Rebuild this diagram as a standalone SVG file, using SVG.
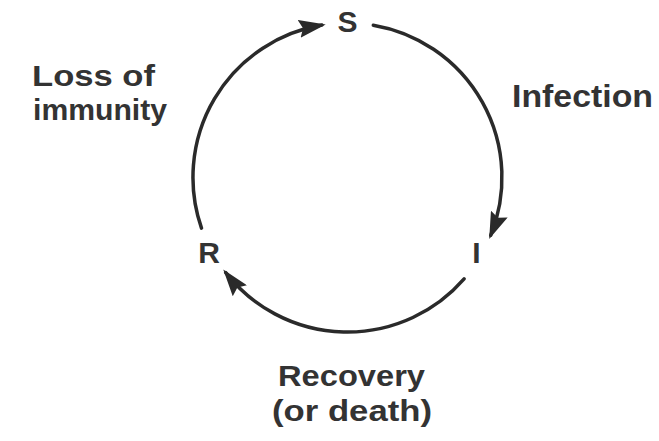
<svg xmlns="http://www.w3.org/2000/svg" width="659" height="441" viewBox="0 0 659 441">
  <defs>
    <marker id="arrow" markerUnits="userSpaceOnUse" markerWidth="27" markerHeight="18" viewBox="0 0 27 18" refX="23" refY="9" orient="auto">
      <path d="M0,0 L27,9 L0,18 L4,9 z" fill="#2a2a2a"/>
    </marker>
    <style>
      .conn { fill: none; stroke: #2a2a2a; stroke-width: 3.5; stroke-linecap: round; marker-end: url(#arrow); }
      .node { font-family: "Liberation Sans", Arial, Helvetica, sans-serif; font-weight: bold; font-size: 30px; fill: #333; text-anchor: middle; }
      .lbl { font-family: "Liberation Sans", Arial, Helvetica, sans-serif; font-weight: bold; font-size: 32px; fill: #333; }
      .lbl2 { font-family: "Liberation Sans", Arial, Helvetica, sans-serif; font-weight: bold; font-size: 30px; fill: #333; }
    </style>
  </defs>
  <rect width="659" height="441" fill="#ffffff"/>

  <g id="connectors">
    <!-- R -> S (left arc) -->
    <path class="conn" d="M201.5,228.1 A154.5,154.5 0 0 1 321.8,25.1"/>
    <!-- S -> I (right arc) -->
    <path class="conn" d="M373.3,25.2 A154.5,154.5 0 0 1 490.7,235.4"/>
    <!-- I -> R (bottom arc) -->
    <path class="conn" d="M464.1,278.9 A154.5,154.5 0 0 1 225.7,272.6"/>
  </g>

  <g id="node-S">
    <text class="node" x="347.5" y="32">S</text>
  </g>
  <g id="node-I">
    <text class="node" x="476.5" y="263">I</text>
  </g>
  <g id="node-R">
    <text class="node" x="209" y="263">R</text>
  </g>

  <g id="label-loss">
    <text class="lbl2" x="32" y="86" textLength="123" lengthAdjust="spacingAndGlyphs">Loss of</text>
    <text class="lbl2" x="33" y="120" textLength="134" lengthAdjust="spacingAndGlyphs">immunity</text>
  </g>
  <g id="label-infection">
    <text class="lbl" x="512" y="107" textLength="141" lengthAdjust="spacingAndGlyphs">Infection</text>
  </g>
  <g id="label-recovery">
    <text class="lbl2" x="278" y="386" textLength="147" lengthAdjust="spacingAndGlyphs">Recovery</text>
    <text class="lbl2" x="272" y="421" textLength="160" lengthAdjust="spacingAndGlyphs">(or death)</text>
  </g>
</svg>
